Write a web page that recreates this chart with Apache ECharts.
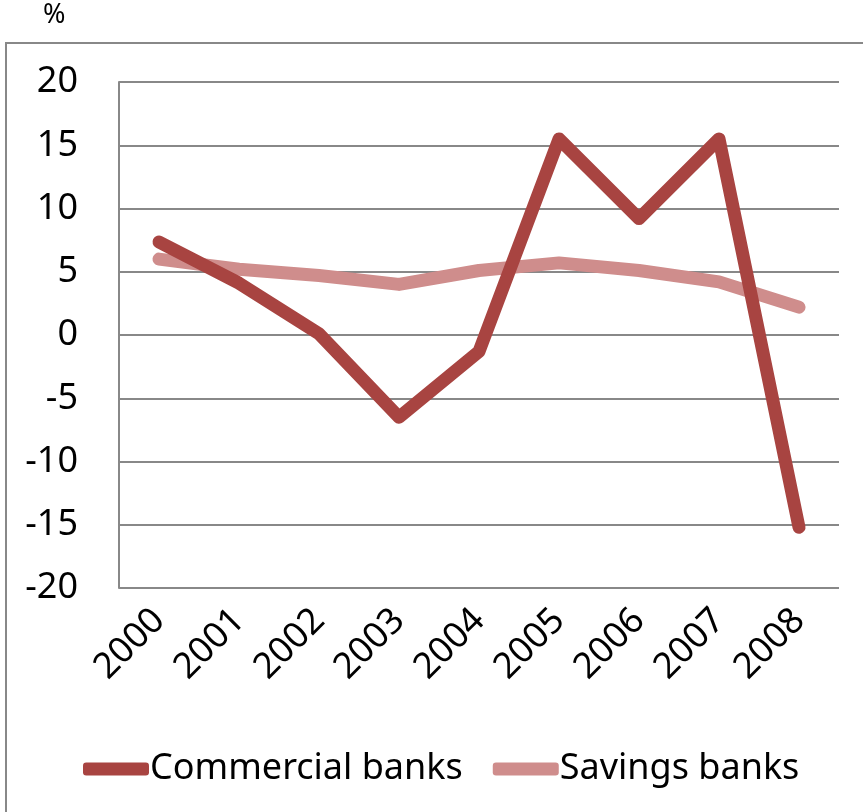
<!DOCTYPE html>
<html>
<head>
<meta charset="utf-8">
<script src="https://cdn.jsdelivr.net/npm/echarts@6/dist/echarts.min.js"></script>
<style>
  html, body { margin: 0; padding: 0; background: #fff; }
  #chart { width: 863px; height: 812px; }
</style>
</head>
<body>
<div id="chart"></div>
<script>
var years = ['2000', '2001', '2002', '2003', '2004', '2005', '2006', '2007', '2008'];
var commercialBanks = [7.35, 4.1, 0.1, -6.5, -1.3, 15.5, 9.2, 15.5, -15.2];
var savingsBanks = [6.0, 5.2, 4.7, 4.0, 5.1, 5.7, 5.1, 4.2, 2.2];
var yTicks = { min: -20, max: 20, step: 5 };

var font = 'Noto Sans';
var chart = echarts.init(document.getElementById('chart'));

var option = {
    animation: false,
    backgroundColor: '#fff',
    graphic: [
        {
            type: 'rect',
            shape: { x: 6, y: 43, width: 900, height: 900 },
            style: { fill: 'none', stroke: '#888', lineWidth: 2 },
            silent: true
        },
        {
            type: 'text',
            left: 43, top: 2,
            style: { text: '%', fontSize: 27, fontFamily: font, fill: '#000' }
        }
    ],
    grid: { left: 119, right: 24, top: 82, bottom: 224 },
    legend: {
        bottom: 20,
        left: 78,
        itemWidth: 66,
        itemHeight: 13,
        itemGap: 30,
        icon: 'roundRect',
        textStyle: { fontFamily: font, fontSize: 36, color: '#000', padding: [0, 0, 0, -4] },
        data: ['Commercial banks', 'Savings banks']
    },
    xAxis: {
        type: 'category',
        data: years,
        boundaryGap: true,
        axisLine: { show: false },
        axisTick: { show: false },
        axisLabel: {
            rotate: 45,
            margin: 27,
            fontFamily: font,
            fontSize: 36,
            color: '#000'
        }
    },
    yAxis: {
        type: 'value',
        min: yTicks.min,
        max: yTicks.max,
        interval: yTicks.step,
        axisLine: { show: true, lineStyle: { color: '#888', width: 2 } },
        axisTick: { show: false },
        splitLine: { lineStyle: { color: '#888', width: 2 } },
        axisLabel: {
            margin: 41,
            fontFamily: font,
            fontSize: 36,
            color: '#000'
        }
    },
    series: [
        {
            name: 'Commercial banks',
            type: 'line',
            data: commercialBanks,
            symbol: 'none',
            color: '#A84441',
            lineStyle: { width: 13, cap: 'round', join: 'round', color: '#A84441' },
            z: 3
        },
        {
            name: 'Savings banks',
            type: 'line',
            data: savingsBanks,
            symbol: 'none',
            color: '#CF8D8C',
            lineStyle: { width: 13, cap: 'round', join: 'round', color: '#CF8D8C' },
            z: 2
        }
    ]
};
chart.setOption(option);
</script>
</body>
</html>
